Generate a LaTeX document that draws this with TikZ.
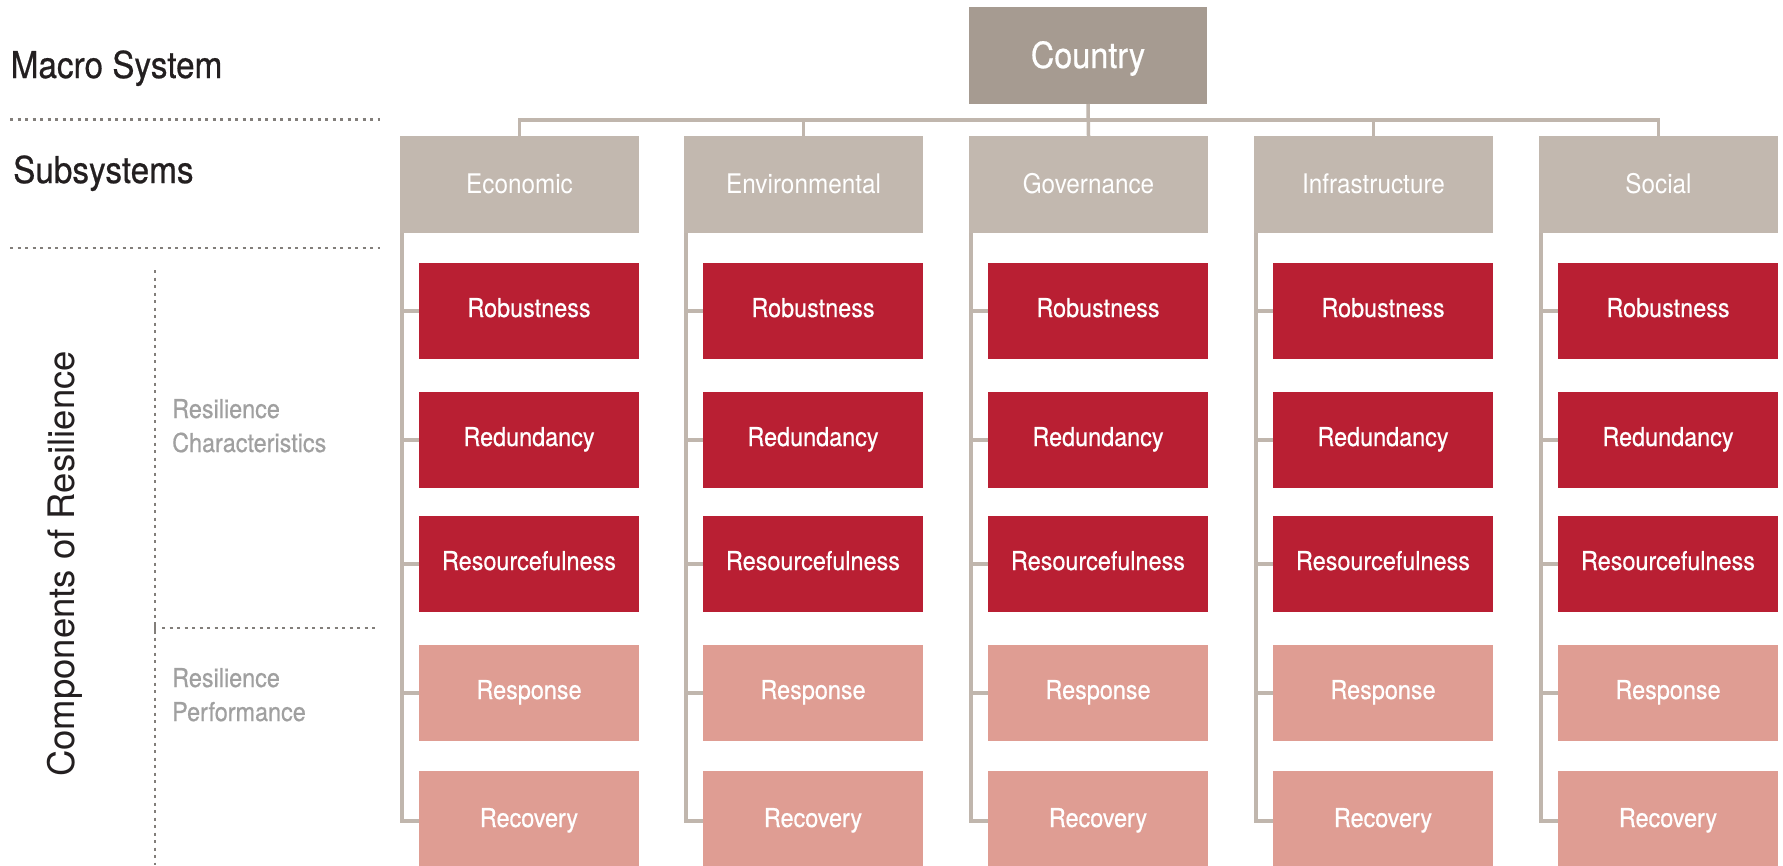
\documentclass[tikz,border=0pt]{standalone}
\usepackage{fontspec}
\setmainfont{TeX Gyre Heros}[FakeStretch=0.9]
\newfontfamily\condmed{TeX Gyre Heros}[FakeStretch=0.9, FakeBold=0.6]
\newfontfamily\widesans{TeX Gyre Heros}
\usetikzlibrary{calc}

\definecolor{countrybg}{RGB}{166,155,145}
\definecolor{subbg}{RGB}{194,184,175}
\definecolor{linkc}{RGB}{192,182,173}
\definecolor{charbg}{RGB}{185,31,51}
\definecolor{perfbg}{RGB}{223,157,147}
\definecolor{labelgray}{RGB}{160,160,160}
\definecolor{rulegray}{RGB}{130,126,122}
\definecolor{ink}{RGB}{35,31,32}

\begin{document}
\begin{tikzpicture}[x=1pt,y=-1pt,
  box/.style={anchor=north west, inner sep=0pt, outer sep=0pt, text=white},
  countrybox/.style={box, fill=countrybg, minimum width=238pt, minimum height=97pt,
    font=\condmed\fontsize{36}{40}\selectfont, text height=25pt, text depth=0pt},
  subbox/.style={box, fill=subbg, minimum width=239pt, minimum height=97pt,
    font=\fontsize{27}{30}\selectfont, text height=17pt, text depth=0pt},
  charbox/.style={box, fill=charbg, minimum width=220pt, minimum height=96pt,
    font=\condmed\fontsize{26}{30}\selectfont, text height=12pt, text depth=0pt},
  perfbox/.style={charbox, fill=perfbg},
  link/.style={draw=linkc, line width=3.5pt},
  rule/.style={draw=rulegray, line width=2.5pt, dash pattern=on 3pt off 4.5pt},
  heading/.style={anchor=base west, inner sep=0pt, text=ink,
    font=\condmed\fontsize{37}{40}\selectfont},
  sublabel/.style={anchor=base west, inner sep=0pt, text=labelgray,
    font=\condmed\fontsize{26}{30}\selectfont},
]
% canvas
\fill[white] (0,0) rectangle (1783,865);
\clip (0,0) rectangle (1783,865);

% row headings on the left
\node[heading] (macro) at (10.5,78) {Macro System};
\node[heading] (subs) at (13,183) {Subsystems};
\node[rotate=90, anchor=base, inner sep=0pt, text=ink,
      font=\widesans\fontsize{36.5}{40}\selectfont] (comp) at (74,564) {Components of Resilience};
\node[sublabel] (rc1) at (172,418) {Resilience};
\node[sublabel] (rc2) at (172,452) {Characteristics};
\node[sublabel] (rp1) at (172,687) {Resilience};
\node[sublabel] (rp2) at (172,721) {Performance};

% dotted separators
\draw[rule] (10,119.5) -- (380,119.5);
\draw[rule] (10,248) -- (380,248);
\draw[rule] (155,270) -- (155,865);
\draw[rule] (162,628) -- (377,628);
\draw[draw=rulegray, line width=2.5pt] (155,622) -- (155,634);

% macro system
\node[countrybox] (C) at (969,7) {Country};

% subsystems with their resilience components
\foreach \id/\L/\name in {E/400/Economic, V/684/Environmental, G/969/Governance,
                          I/1254/Infrastructure, S/1539/Social} {
  \node[subbox]  (\id)  at (\L,136) {\name};
  \node[charbox] (\id1) at (\L+19,263) {Robustness};
  \node[charbox] (\id2) at (\L+19,392) {Redundancy};
  \node[charbox] (\id3) at (\L+19,516) {Resourcefulness};
  \node[perfbox] (\id4) at (\L+19,645) {Response};
  \node[perfbox, minimum height=100pt] (\id5) at (\L+19,771) {Recovery};
  \coordinate (trunk\id) at ([xshift=1.75pt]\id.south west);
  \draw[link] (trunk\id) |- (\id5.west);
  \foreach \k in {1,2,3,4}
    \draw[link] (\id\k.west) -- (\id\k.west -| trunk\id);
}

% bus from the country to the subsystems
\coordinate (bus) at ($(C.south)!0.5!(G.north)$);
\draw[link] (C.south) -- (G.north);
\draw[link] (E.north) |- (bus) -| (S.north);
\draw[link] (V.north) -- (V.north |- bus);
\draw[link] (I.north) -- (I.north |- bus);
\end{tikzpicture}
\end{document}
